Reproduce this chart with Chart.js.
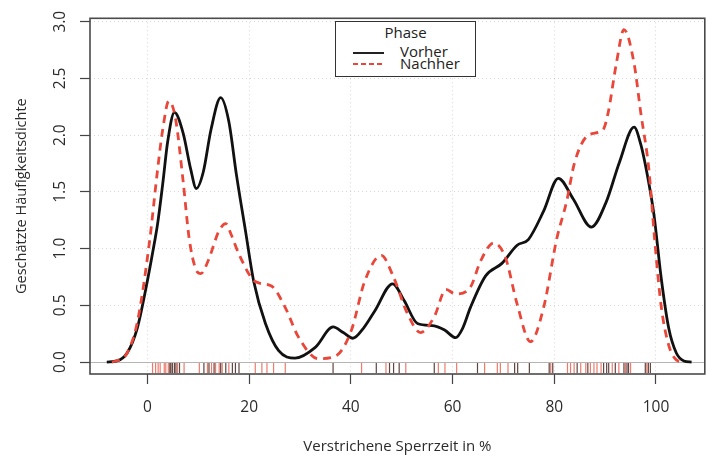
<!DOCTYPE html>
<html>
<head>
<meta charset="utf-8">
<script src="https://cdn.jsdelivr.net/npm/chart.js@4.4.0/dist/chart.umd.min.js"></script>
<style>
  body { margin: 0; background: #fff; }
  #wrap { position: relative; width: 711px; height: 456px; }
  #legend { position: absolute; left: 335px; top: 21px; width: 139px; height: 54px;
            border: 1.5px solid #333; background: #fff; font-family: "Open Sans", sans-serif;
            font-size: 15px; color: #222; }
  #legend .t { position: absolute; left: 0; width: 100%; text-align: center; top: 0px; line-height: 20px; }
  #legend .lbl { position: absolute; left: 64px; line-height: 14px; }
  #legend .smp { position: absolute; left: 17px; width: 31px; height: 2px; }
</style>
</head>
<body>
<div id="wrap">
  <canvas id="myChart" width="711" height="456"></canvas>
  <div id="legend">
    <div class="t">Phase</div>
    <div class="smp" style="top:30px; background:#222;"></div>
    <div class="lbl" style="top:22px;">Vorher</div>
    <div class="smp" style="top:41px; background:repeating-linear-gradient(90deg,#e8473a 0 5px,transparent 5px 8px);"></div>
    <div class="lbl" style="top:34px;">Nachher</div>
  </div>
</div>
<script>
// Dichte "Vorher"
var xVorher = [-8, -6, -4, -2, 0, 1.4, 2, 3, 4, 5.3, 7, 8.5, 9.6, 11, 12.5, 14.4, 16, 17.5, 19.3, 20.9, 23.2, 25.8, 29, 33, 36.5, 38.5, 40.4, 42.5, 44.7, 48.2, 50.5, 53.1, 56.4, 58.5, 60.6, 62, 63.5, 66.5, 69.7, 72.7, 74.9, 77.9, 80.8, 83.7, 87.3, 90.2, 92.8, 95.7, 97, 98.5, 99.6, 101, 102.5, 104, 105.5, 107];
var yVorher = [0, 0.01, 0.08, 0.3, 0.72, 1.06, 1.22, 1.57, 1.95, 2.2, 2.02, 1.7, 1.53, 1.68, 2.05, 2.33, 2.12, 1.65, 1.15, 0.71, 0.34, 0.1, 0.035, 0.13, 0.31, 0.26, 0.21, 0.3, 0.45, 0.69, 0.54, 0.34, 0.32, 0.28, 0.215, 0.3, 0.48, 0.76, 0.87, 1.03, 1.08, 1.33, 1.62, 1.44, 1.19, 1.41, 1.76, 2.07, 1.92, 1.6, 1.3, 0.75, 0.3, 0.08, 0.01, 0];

// Dichte "Nachher"
var xNachher = [-7, -5.5, -4, -2, 0.4, 2, 3, 4.2, 5.5, 7, 8.2, 9.5, 10.5, 12, 14, 15.4, 16.5, 18, 21.2, 24.4, 27.1, 29.7, 33.6, 36.9, 40.1, 42.7, 46, 48.2, 51.2, 53.7, 56.4, 58.7, 60.6, 63.5, 65.5, 68.1, 70.4, 72.7, 75.3, 77.9, 80.5, 82.4, 84, 86.7, 89.6, 90.6, 92.2, 93.7, 95.7, 97, 98.6, 99.7, 101, 102.5, 104, 105.5];
var yNachher = [0, 0.02, 0.08, 0.35, 1.06, 1.7, 2.05, 2.3, 2.15, 1.6, 1.09, 0.82, 0.78, 0.9, 1.15, 1.22, 1.12, 0.95, 0.71, 0.67, 0.48, 0.22, 0.03, 0.05, 0.28, 0.71, 0.94, 0.77, 0.42, 0.26, 0.4, 0.64, 0.6, 0.66, 0.89, 1.05, 0.92, 0.51, 0.18, 0.48, 1.09, 1.41, 1.76, 2.0, 2.05, 2.2, 2.63, 2.93, 2.63, 2.2, 1.7, 1.1, 0.5, 0.15, 0.02, 0];

// Rug: Einzelbeobachtungen
var rugVorher = [4.4, 4.6, 4.9, 5.3, 5.6, 6.3, 11.1, 12.1, 13.1, 14.4, 15.4, 16.7, 17.3, 18.0, 36.5, 45.0, 47.6, 48.4, 49.5, 56.4, 64.9, 72.2, 72.8, 75.1, 79.0, 79.7, 84.5, 86.6, 89.7, 90.3, 90.7, 92.0, 93.7, 94.3, 94.6, 97.9, 98.5, 98.9];
var rugNachher = [1.0, 1.6, 2.1, 2.5, 3.3, 3.6, 4.1, 5.9, 7.2, 10.2, 11.8, 12.6, 13.4, 14.1, 14.7, 16.0, 21.2, 22.5, 23.5, 24.8, 27.1, 42.1, 46.9, 50.8, 57.2, 58.5, 60.8, 66.3, 68.8, 69.4, 70.9, 79.3, 82.6, 83.2, 83.9, 85.2, 86.2, 87.1, 87.8, 88.4, 89.2, 91.4, 92.7, 94.0, 95.0, 98.2];

var xTicks = [0, 20, 40, 60, 80, 100];
var yTicks = [0, 0.5, 1.0, 1.5, 2.0, 2.5, 3.0];

function pts(xs, ys) {
  return xs.map(function (x, i) { return { x: x, y: ys[i] }; });
}
var rugY = -0.052;
function rug(xs) {
  return xs.map(function (x) { return { x: x, y: rugY }; });
}

Chart.defaults.font.family = "'Open Sans', sans-serif";
Chart.defaults.font.size = 15.5;
Chart.defaults.color = '#2b2b2b';

var boxPlugin = {
  id: 'box',
  beforeDatasetsDraw: function (chart) {
    var a = chart.chartArea, c = chart.ctx;
    c.save();
    c.strokeStyle = '#4a4a4a';
    c.lineWidth = 1.6;
    c.strokeRect(a.left, a.top, a.right - a.left, a.bottom - a.top);
    c.restore();
  }
};

var ctx = document.getElementById('myChart').getContext('2d');
var chart = new Chart(ctx, {
  type: 'line',
  data: {
    datasets: [
      {
        label: 'Nachher',
        data: pts(xNachher, yNachher),
        borderColor: '#e8473a',
        borderWidth: 2.8,
        borderDash: [8, 6],
        pointRadius: 0,
        cubicInterpolationMode: 'monotone',
        order: 0
      },
      {
        label: 'Vorher',
        data: pts(xVorher, yVorher),
        borderColor: '#111',
        borderWidth: 2.8,
        pointRadius: 0,
        cubicInterpolationMode: 'monotone',
        order: 1
      },
      {
        label: 'rugN',
        data: rug(rugNachher),
        showLine: false,
        pointStyle: 'line',
        pointRotation: 90,
        pointRadius: 5,
        pointBorderWidth: 1.2,
        pointBorderColor: 'rgba(228,80,60,0.75)',
        order: 3
      },
      {
        label: 'rugV',
        data: rug(rugVorher),
        showLine: false,
        pointStyle: 'line',
        pointRotation: 90,
        pointRadius: 5,
        pointBorderWidth: 1.2,
        pointBorderColor: 'rgba(70,35,30,0.85)',
        order: 2
      }
    ]
  },
  options: {
    responsive: false,
    animation: false,
    layout: { padding: { top: 14, right: 2, left: 0, bottom: 0 } },
    plugins: { legend: { display: false }, tooltip: { enabled: false } },
    scales: {
      x: {
        type: 'linear',
        min: -11.3,
        max: 109.6,
        afterBuildTicks: function (s) { s.ticks = xTicks.map(function (v) { return { value: v }; }); },
        afterFit: function (s) { s.height = 82; },
        ticks: { padding: 14, maxRotation: 0 },
        grid: { color: 'rgba(0,0,0,0.16)', tickLength: 10, tickColor: '#444', tickWidth: 1.2, tickBorderDash: [] },
        border: { display: false, dash: [1, 3] },
        title: { display: true, text: 'Verstrichene Sperrzeit in %', font: { size: 15 }, padding: { top: 0, bottom: 0 } }
      },
      y: {
        type: 'linear',
        min: -0.105,
        max: 3.03,
        afterBuildTicks: function (s) { s.ticks = yTicks.map(function (v) { return { value: v }; }); },
        afterFit: function (s) { s.width = 90; },
        ticks: {
          padding: 9, minRotation: 90, maxRotation: 90, crossAlign: 'center',
          callback: function (v) { return Number(v).toFixed(1); }
        },
        grid: {
          color: function (c) { return c.tick && c.tick.value === 0 ? '#b5b5b5' : 'rgba(0,0,0,0.16)'; },
          tickLength: 10, tickColor: '#444', tickWidth: 1.2, tickBorderDash: []
        },
        border: { display: false, dash: function (c) { return c.tick && c.tick.value === 0 ? [] : [1, 3]; } },
        title: { display: true, text: 'Geschätzte Häufigkeitsdichte', font: { size: 14.5 }, padding: { top: 13, bottom: 0 } }
      }
    }
  },
  plugins: [boxPlugin]
});
</script>
</body>
</html>
